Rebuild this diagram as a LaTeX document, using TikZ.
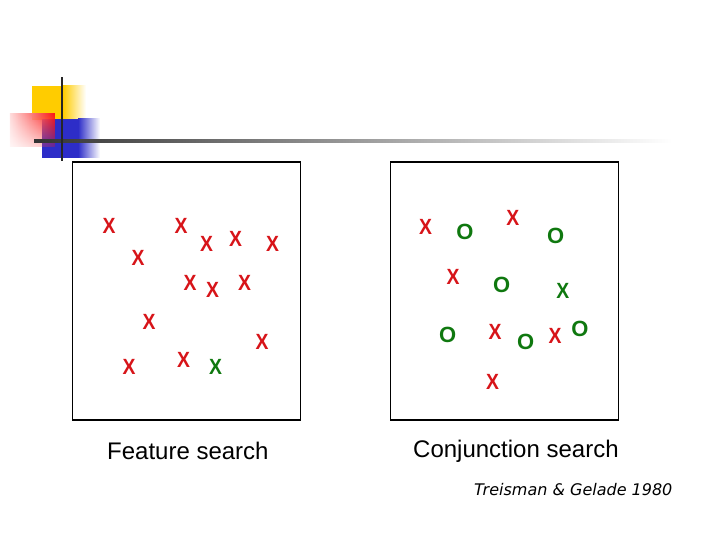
\documentclass[tikz,border=0pt]{standalone}
\usepackage{fontspec}
\setmainfont{Liberation Sans}
\newfontfamily\citefont{DejaVu Sans}
\usetikzlibrary{fadings}
\definecolor{xred}{RGB}{215,20,25}
\definecolor{xgreen}{RGB}{15,120,15}
\definecolor{decoyellow}{RGB}{255,204,0}
\definecolor{decored}{RGB}{250,20,20}
\definecolor{decoblue}{RGB}{45,45,200}
\tikzfading[name=fadedown, top color=transparent!0, bottom color=transparent!75]
\newcommand{\glyphX}{\scalebox{0.88}[1]{X}}
\tikzset{
  rx/.style={text=xred, font=\fontsize{22}{22}\selectfont\bfseries, inner sep=0pt},
  gx/.style={text=xgreen, font=\fontsize{22}{22}\selectfont\bfseries, inner sep=0pt},
  go/.style={text=xgreen, font=\fontsize{22}{22}\selectfont\bfseries, inner sep=0pt},
  panel/.style={draw=black, line width=1.4pt},
  caption/.style={font=\fontsize{24}{24}\selectfont, inner sep=0pt},
}
\begin{document}
\begin{tikzpicture}[x=1pt,y=-1pt]
\useasboundingbox (0,0) rectangle (720,540);
% decoration
\fill[decoyellow] (32,86) rectangle (63,120);
\shade[left color=decoyellow, right color=white] (63,86) rectangle (86,120);
\fill[decoblue] (42,119) rectangle (78,158);
\shade[left color=decoblue, right color=white] (78,119) rectangle (100,158);
\shade[left color=decored!15, right color=decored, path fading=fadedown] (10,114) rectangle (55,147);
\shade[left color=black!80, right color=white] (34,140) rectangle (672,142.6);
\fill[black!85] (60.5,77) rectangle (63,161);
% panels
\node[panel, minimum width=228pt, minimum height=258pt, inner sep=0pt] (left) at (186.5,291) {};
\node[panel, minimum width=228pt, minimum height=258pt, inner sep=0pt] (right) at (504.2,291) {};
% feature search
\node[rx] (l1) at (109,225.7) {\glyphX};
\node[rx] (l2) at (181,225.7) {\glyphX};
\node[rx] (l3) at (206.7,244.3) {\glyphX};
\node[rx] (l4) at (235.7,238.7) {\glyphX};
\node[rx] (l5) at (272.7,244.3) {\glyphX};
\node[rx] (l6) at (138,257.7) {\glyphX};
\node[rx] (l7) at (190,283.3) {\glyphX};
\node[rx] (l8) at (212.7,290) {\glyphX};
\node[rx] (l9) at (244.7,283.3) {\glyphX};
\node[rx] (l10) at (149,322.3) {\glyphX};
\node[rx] (l11) at (262,341.7) {\glyphX};
\node[rx] (l12) at (129,367.3) {\glyphX};
\node[rx] (l13) at (183.7,360) {\glyphX};
\node[gx] (l14) at (215.7,367.3) {\glyphX};
% conjunction search
\node[rx] (r1) at (425.7,226.7) {\glyphX};
\node[go] (r2) at (465,232.3) {O};
\node[rx] (r3) at (512.7,217.7) {\glyphX};
\node[go] (r4) at (555.7,235.7) {O};
\node[rx] (r5) at (453,277.3) {\glyphX};
\node[go] (r6) at (501.7,285) {O};
\node[gx] (r7) at (562.7,290.7) {\glyphX};
\node[go] (r8) at (447.7,335) {O};
\node[rx] (r9) at (495,331.7) {\glyphX};
\node[go] (r10) at (525.7,342.3) {O};
\node[rx] (r11) at (555,335.7) {\glyphX};
\node[go] (r12) at (580,329.3) {O};
\node[rx] (r13) at (492.7,381.7) {\glyphX};
% captions
\node[caption, anchor=west] (capl) at (107,451) {Feature search};
\node[caption, anchor=west] (capr) at (413,451) {Conjunction search};
\node[font=\citefont\itshape\fontsize{16}{16}\selectfont, anchor=west, inner sep=0pt] (cite) at (474,490) {Treisman \& Gelade 1980};
\end{tikzpicture}
\end{document}
